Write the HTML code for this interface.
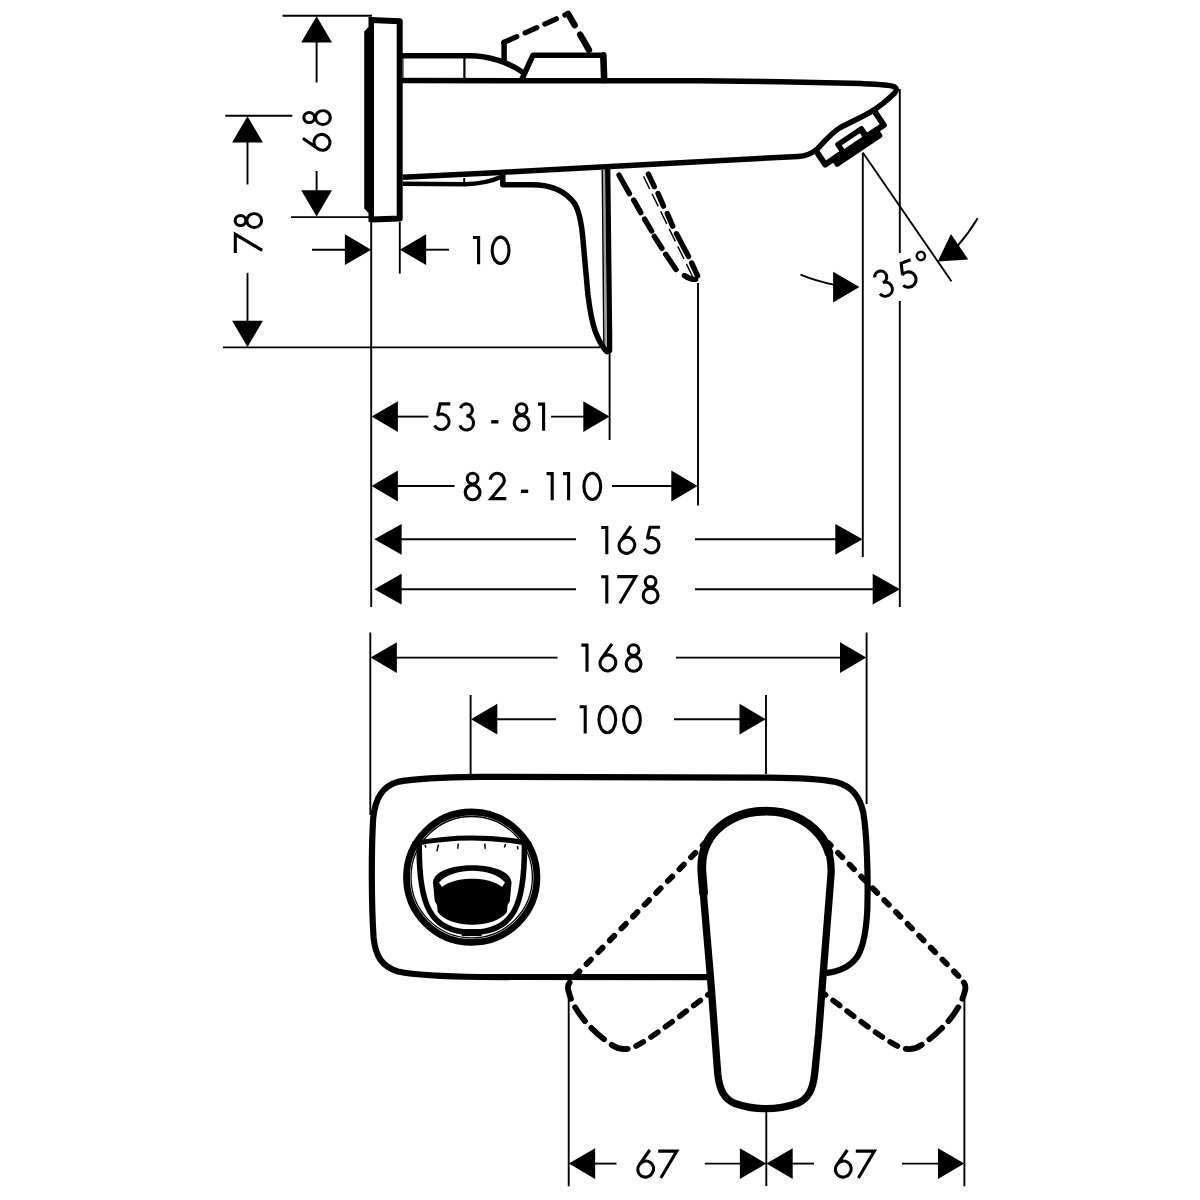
<!DOCTYPE html>
<html><head><meta charset="utf-8"><title>Dimension drawing</title>
<style>
html,body{margin:0;padding:0;background:#fff;font-family:"Liberation Sans",sans-serif;}
svg{display:block}
</style></head>
<body>
<svg width="1200" height="1200" viewBox="0 0 1200 1200">
<rect width="1200" height="1200" fill="#fff"/>
<!-- extension lines -->
<line x1="282.5" y1="15.8" x2="372" y2="15.8" stroke="#000" stroke-width="1.9" />
<line x1="291" y1="217.1" x2="372" y2="217.1" stroke="#000" stroke-width="1.9" />
<line x1="225.3" y1="115.8" x2="292.3" y2="115.8" stroke="#000" stroke-width="1.9" />
<line x1="223" y1="347.4" x2="600" y2="347.4" stroke="#000" stroke-width="1.9" />
<line x1="371.2" y1="222" x2="371.2" y2="607" stroke="#000" stroke-width="1.9" />
<line x1="399.8" y1="222" x2="399.8" y2="273.6" stroke="#000" stroke-width="1.9" />
<line x1="609.6" y1="352" x2="609.6" y2="440" stroke="#000" stroke-width="1.9" />
<line x1="698" y1="283" x2="698" y2="505.4" stroke="#000" stroke-width="1.9" />
<line x1="862.8" y1="153" x2="862.8" y2="557" stroke="#000" stroke-width="1.9" />
<line x1="899.8" y1="89" x2="899.8" y2="253" stroke="#000" stroke-width="1.9" />
<line x1="899.8" y1="301" x2="899.8" y2="607" stroke="#000" stroke-width="1.9" />
<line x1="862.8" y1="152.5" x2="951.4" y2="281.2" stroke="#000" stroke-width="1.9" />
<polygon points="316.60,16.20 332.00,42.50 301.20,42.50" fill="#000"/>
<line x1="316.6" y1="42" x2="316.6" y2="82.5" stroke="#000" stroke-width="1.9" />
<line x1="316.6" y1="171" x2="316.6" y2="191" stroke="#000" stroke-width="1.9" />
<polygon points="316.60,216.60 301.20,190.30 332.00,190.30" fill="#000"/>
<g fill="none" stroke="#000" stroke-width="3.1">
<g transform="matrix(0 -1 1 0 302.3 151.6)"><path d="M13.4,0.6 L3.03,15.25 A7.7,7.7 0 1 0 15.57,24.15 A7.7,7.7 0 1 0 3.03,15.25" stroke-linejoin="round"/></g>
<g transform="matrix(0 -0.94 1 0 302.3 126.0)"><circle cx="9" cy="6.9" r="5.35"/><circle cx="9" cy="20.6" r="7.4"/></g>
</g>
<polygon points="247.50,116.20 262.90,142.50 232.10,142.50" fill="#000"/>
<line x1="247.5" y1="142" x2="247.5" y2="184.5" stroke="#000" stroke-width="1.9" />
<line x1="247.5" y1="272.8" x2="247.5" y2="321.5" stroke="#000" stroke-width="1.9" />
<polygon points="247.50,347.00 232.10,320.70 262.90,320.70" fill="#000"/>
<g fill="none" stroke="#000" stroke-width="3.1">
<g transform="matrix(0 -1 1 0 233.6 252.9)"><path d="M0,1.7 H18.6 L2.6,28.6"/></g>
<g transform="matrix(0 -0.94 1 0 233.6 229.0)"><circle cx="9" cy="6.9" r="5.35"/><circle cx="9" cy="20.6" r="7.4"/></g>
</g>
<polygon points="371.20,249.70 344.90,265.10 344.90,234.30" fill="#000"/>
<line x1="312" y1="249.7" x2="345.5" y2="249.7" stroke="#000" stroke-width="1.9" />
<polygon points="399.80,249.70 426.10,234.30 426.10,265.10" fill="#000"/>
<line x1="425.5" y1="249.7" x2="449" y2="249.7" stroke="#000" stroke-width="1.9" />
<g fill="none" stroke="#000" stroke-width="3.1" stroke-linejoin="miter" stroke-linecap="butt">
<g transform="translate(473 235.6)"><path d="M0,1.9 H5.6 V28.6"/></g>
<g transform="translate(490.6 235.6)"><ellipse cx="10" cy="14.7" rx="8.4" ry="13.15"/></g>
</g>
<polygon points="371.60,416.60 397.90,401.20 397.90,432.00" fill="#000"/>
<polygon points="609.60,416.60 583.30,432.00 583.30,401.20" fill="#000"/>
<line x1="397.40000000000003" y1="416.6" x2="428.4" y2="416.6" stroke="#000" stroke-width="1.9" />
<line x1="551" y1="416.6" x2="583.8000000000001" y2="416.6" stroke="#000" stroke-width="1.9" />
<g fill="none" stroke="#000" stroke-width="3.1" stroke-linejoin="miter" stroke-linecap="butt">
<g transform="translate(432.8 402.2)"><path d="M17.5,1.7 H7.4 L4.9,12.3" stroke-linejoin="miter"/><path d="M4.3,13.2 A7.7,7.7 0 1 1 1.8,23.2"/><path d="M5.7,9.6 L3.3,13.9 L6.6,12.4 Z" fill="#000" stroke="none"/></g>
<g transform="translate(458.4 402.2)"><path d="M2.2,6.0 A6,6 0 1 1 8,13.7 A7.05,7.05 0 1 1 1.5,23.2"/></g>
<g transform="translate(491.2 402.2)"><path d="M0,19.6 H7.2" stroke-width="3.4"/></g>
<g transform="translate(512.6 402.2)"><circle cx="9" cy="6.9" r="5.35"/><circle cx="9" cy="20.6" r="7.4"/></g>
<g transform="translate(538.0 402.2)"><path d="M0,1.9 H5.6 V28.6"/></g>
</g>
<polygon points="371.60,486.00 397.90,470.60 397.90,501.40" fill="#000"/>
<polygon points="697.60,486.00 671.30,501.40 671.30,470.60" fill="#000"/>
<line x1="397.40000000000003" y1="486" x2="454.5" y2="486" stroke="#000" stroke-width="1.9" />
<line x1="612" y1="486" x2="671.8000000000001" y2="486" stroke="#000" stroke-width="1.9" />
<g fill="none" stroke="#000" stroke-width="3.1" stroke-linejoin="miter" stroke-linecap="butt">
<g transform="translate(463.6 471.7)"><circle cx="9" cy="6.9" r="5.35"/><circle cx="9" cy="20.6" r="7.4"/></g>
<g transform="translate(488.3 471.7)"><path d="M1.95,7.9 A7,7 0 1 1 14.12,13.25 L2.6,26.9 H18"/></g>
<g transform="translate(521.0 471.7)"><path d="M0,19.6 H7.2" stroke-width="3.4"/></g>
<g transform="translate(546.6 471.7)"><path d="M0,1.9 H5.6 V28.6"/></g>
<g transform="translate(563.0 471.7)"><path d="M0,1.9 H5.6 V28.6"/></g>
<g transform="translate(582.3 471.7)"><ellipse cx="10" cy="14.7" rx="8.4" ry="13.15"/></g>
</g>
<polygon points="374.30,539.30 401.60,523.90 401.60,554.70" fill="#000"/>
<polygon points="862.60,539.30 835.30,554.70 835.30,523.90" fill="#000"/>
<line x1="401.1" y1="539.3" x2="576" y2="539.3" stroke="#000" stroke-width="1.9" />
<line x1="695" y1="539.3" x2="835.8000000000001" y2="539.3" stroke="#000" stroke-width="1.9" />
<g fill="none" stroke="#000" stroke-width="3.1" stroke-linejoin="miter" stroke-linecap="butt">
<g transform="translate(601.2 525.6)"><path d="M0,1.9 H5.6 V28.6"/></g>
<g transform="translate(617.6 525.6)"><path d="M13.4,0.6 L3.03,15.25 A7.7,7.7 0 1 0 15.57,24.15 A7.7,7.7 0 1 0 3.03,15.25" stroke-linejoin="round"/></g>
<g transform="translate(642.6 525.6)"><path d="M17.5,1.7 H7.4 L4.9,12.3" stroke-linejoin="miter"/><path d="M4.3,13.2 A7.7,7.7 0 1 1 1.8,23.2"/><path d="M5.7,9.6 L3.3,13.9 L6.6,12.4 Z" fill="#000" stroke="none"/></g>
</g>
<polygon points="374.30,589.20 401.60,573.80 401.60,604.60" fill="#000"/>
<polygon points="900.00,589.20 872.70,604.60 872.70,573.80" fill="#000"/>
<line x1="401.1" y1="589.2" x2="576" y2="589.2" stroke="#000" stroke-width="1.9" />
<line x1="695" y1="589.2" x2="873.2" y2="589.2" stroke="#000" stroke-width="1.9" />
<g fill="none" stroke="#000" stroke-width="3.1" stroke-linejoin="miter" stroke-linecap="butt">
<g transform="translate(601.2 574.9)"><path d="M0,1.9 H5.6 V28.6"/></g>
<g transform="translate(617.2 574.9)"><path d="M0,1.7 H18.6 L2.6,28.6"/></g>
<g transform="translate(641.6 574.9)"><circle cx="9" cy="6.9" r="5.35"/><circle cx="9" cy="20.6" r="7.4"/></g>
</g>
<polygon points="859.40,287.10 833.10,302.50 833.10,271.70" fill="#000"/>
<path d="M800.5,274.6 Q816,281 833.5,284.6" fill="none" stroke="#000" stroke-width="1.9" />
<polygon points="937.80,261.40 950.99,233.93 968.22,259.46" fill="#000"/>
<path d="M977.6,218.3 Q969,233 957.5,246" fill="none" stroke="#000" stroke-width="1.9" />
<g fill="none" stroke="#000" stroke-width="3.1" stroke-linejoin="miter" stroke-linecap="butt" transform="translate(870.6 272.5) rotate(-20)">
<g transform="translate(0 0)"><path d="M2.2,6.0 A6,6 0 1 1 8,13.7 A7.05,7.05 0 1 1 1.5,23.2"/></g>
<g transform="translate(24.5 0)"><path d="M17.5,1.7 H7.4 L4.9,12.3" stroke-linejoin="miter"/><path d="M4.3,13.2 A7.7,7.7 0 1 1 1.8,23.2"/><path d="M5.7,9.6 L3.3,13.9 L6.6,12.4 Z" fill="#000" stroke="none"/></g>
<g transform="translate(48.3 -2.0)"><circle cx="4.6" cy="3.6" r="4.1" stroke-width="2.4"/></g>
</g>
<line x1="370.3" y1="632.5" x2="370.3" y2="815" stroke="#000" stroke-width="1.9" />
<line x1="866.6" y1="632.5" x2="866.6" y2="804" stroke="#000" stroke-width="1.9" />
<line x1="470.6" y1="695" x2="470.6" y2="774" stroke="#000" stroke-width="1.9" />
<line x1="766" y1="695" x2="766" y2="774" stroke="#000" stroke-width="1.9" />
<polygon points="370.60,657.60 396.90,642.20 396.90,673.00" fill="#000"/>
<polygon points="866.30,657.60 840.00,673.00 840.00,642.20" fill="#000"/>
<line x1="396.40000000000003" y1="657.6" x2="557.5" y2="657.6" stroke="#000" stroke-width="1.9" />
<line x1="676" y1="657.6" x2="840.5" y2="657.6" stroke="#000" stroke-width="1.9" />
<g fill="none" stroke="#000" stroke-width="3.1" stroke-linejoin="miter" stroke-linecap="butt">
<g transform="translate(581.4 643.2)"><path d="M0,1.9 H5.6 V28.6"/></g>
<g transform="translate(598.6 643.2)"><path d="M13.4,0.6 L3.03,15.25 A7.7,7.7 0 1 0 15.57,24.15 A7.7,7.7 0 1 0 3.03,15.25" stroke-linejoin="round"/></g>
<g transform="translate(624.6 643.2)"><circle cx="9" cy="6.9" r="5.35"/><circle cx="9" cy="20.6" r="7.4"/></g>
</g>
<polygon points="471.00,719.20 497.30,703.80 497.30,734.60" fill="#000"/>
<polygon points="765.80,719.20 739.50,734.60 739.50,703.80" fill="#000"/>
<line x1="496.8" y1="719.2" x2="556" y2="719.2" stroke="#000" stroke-width="1.9" />
<line x1="674" y1="719.2" x2="740.0" y2="719.2" stroke="#000" stroke-width="1.9" />
<g fill="none" stroke="#000" stroke-width="3.1" stroke-linejoin="miter" stroke-linecap="butt">
<g transform="translate(579.6 704.9)"><path d="M0,1.9 H5.6 V28.6"/></g>
<g transform="translate(597.3 704.9)"><ellipse cx="10" cy="14.7" rx="8.4" ry="13.15"/></g>
<g transform="translate(622.0 704.9)"><ellipse cx="10" cy="14.7" rx="8.4" ry="13.15"/></g>
</g>
<line x1="568.7" y1="985" x2="568.7" y2="1186.3" stroke="#000" stroke-width="1.9" />
<line x1="766.3" y1="1111" x2="766.3" y2="1186" stroke="#000" stroke-width="1.9" />
<line x1="964.4" y1="981" x2="964.4" y2="1186.3" stroke="#000" stroke-width="1.9" />
<polygon points="568.80,1163.60 595.10,1148.20 595.10,1179.00" fill="#000"/>
<polygon points="766.20,1163.60 739.90,1179.00 739.90,1148.20" fill="#000"/>
<line x1="594.5999999999999" y1="1163.6" x2="616.5" y2="1163.6" stroke="#000" stroke-width="1.9" />
<line x1="704.8" y1="1163.6" x2="740.4000000000001" y2="1163.6" stroke="#000" stroke-width="1.9" />
<g fill="none" stroke="#000" stroke-width="3.1" stroke-linejoin="miter" stroke-linecap="butt">
<g transform="translate(636.4 1149.4)"><path d="M13.4,0.6 L3.03,15.25 A7.7,7.7 0 1 0 15.57,24.15 A7.7,7.7 0 1 0 3.03,15.25" stroke-linejoin="round"/></g>
<g transform="translate(658.2 1149.4)"><path d="M0,1.7 H18.6 L2.6,28.6"/></g>
</g>
<polygon points="766.40,1163.60 792.70,1148.20 792.70,1179.00" fill="#000"/>
<polygon points="964.30,1163.60 938.00,1179.00 938.00,1148.20" fill="#000"/>
<line x1="792.1999999999999" y1="1163.6" x2="814" y2="1163.6" stroke="#000" stroke-width="1.9" />
<line x1="902" y1="1163.6" x2="938.5" y2="1163.6" stroke="#000" stroke-width="1.9" />
<g fill="none" stroke="#000" stroke-width="3.1" stroke-linejoin="miter" stroke-linecap="butt">
<g transform="translate(834.0 1149.4)"><path d="M13.4,0.6 L3.03,15.25 A7.7,7.7 0 1 0 15.57,24.15 A7.7,7.7 0 1 0 3.03,15.25" stroke-linejoin="round"/></g>
<g transform="translate(855.8 1149.4)"><path d="M0,1.7 H18.6 L2.6,28.6"/></g>
</g>
<!-- side view -->
<path d="M368.5,17 L374,17 L374,222 L368.5,222 L368.5,213 L364.2,208.6 L364.2,31.4 L368.5,27 Z" fill="#000"/>
<path d="M371,20 L399.7,21.2 L399.7,218.6 L371,219.6" fill="none" stroke="#000" stroke-width="6" stroke-linejoin="round"/>
<path d="M402,55.8 H470 C488,55.8 508,62 523,72.5" fill="none" stroke="#000" stroke-width="5.5" />
<line x1="464.4" y1="58" x2="464.4" y2="78.5" stroke="#000" stroke-width="2.2" />
<line x1="403.4" y1="58" x2="403.4" y2="78" stroke="#000" stroke-width="1" stroke-opacity="0.55"/>
<path d="M522,79 L533,55.2 H601" fill="none" stroke="#000" stroke-width="5.5" stroke-linejoin="round"/>
<path d="M603.3,55.2 L604.2,80" fill="none" stroke="#000" stroke-width="6.6" stroke-linecap="round"/>
<path d="M402,80.6 L700,80.7 L780,81.8 L862,83.6 C878,84.2 890,84.6 894,86.6 C897,88.4 897,90.8 894.5,93.2 C889,98.5 880,106.5 870,112.4 C862,117 852,121.5 840,127.75 C832,132.5 826,139.5 817.5,148.75 C812,153.5 806,156.2 798,156.4 L500,172.4 L402.7,177.2" fill="none" stroke="#000" stroke-width="5.5" stroke-linejoin="round"/>
<path d="M402.7,183.8 L465,184.2 C480,184 492,181 501,177" fill="none" stroke="#000" stroke-width="4.6" />
<line x1="464.2" y1="178" x2="464.2" y2="183" stroke="#000" stroke-width="2" />
<path d="M502.8,175 V184.7 H532 C552,184.7 566,192 574.3,203.1 C580,212 582,228 583,240 C584.5,256 586.5,280 587.9,294.2 C589.5,308 592,322 595.5,332.1 C599,341 603,348.5 606.9,351.6" fill="none" stroke="#000" stroke-width="5.5" stroke-linejoin="round" stroke-linecap="round"/>
<path d="M607.7,169 L609.6,335 L609.6,350.6" fill="none" stroke="#000" stroke-width="5.3" stroke-linecap="round"/>
<line x1="602.3" y1="170" x2="603.9" y2="346" stroke="#000" stroke-width="1.5" />
<line x1="604.1" y1="170" x2="605.9" y2="349" stroke="#000" stroke-width="2.0" stroke-opacity="0.38"/>
<path d="M504.1,59.5 V42.3" fill="none" stroke="#000" stroke-width="5.5" stroke-linecap="round"/>
<line x1="504.01" y1="42.34" x2="516.78" y2="36.61" stroke="#000" stroke-width="5.2" stroke-linecap="round"/>
<line x1="525.17" y1="32.84" x2="536.85" y2="27.59" stroke="#000" stroke-width="5.2" stroke-linecap="round"/>
<line x1="544.78" y1="24.03" x2="556.46" y2="18.78" stroke="#000" stroke-width="5.2" stroke-linecap="round"/>
<line x1="564.85" y1="15.01" x2="567.86" y2="13.66" stroke="#000" stroke-width="5.2" stroke-linecap="round"/>
<line x1="568.10" y1="13.77" x2="574.66" y2="25.11" stroke="#000" stroke-width="6.4" stroke-linecap="round"/>
<line x1="580.12" y1="34.55" x2="588.94" y2="49.78" stroke="#000" stroke-width="6.4" stroke-linecap="round"/>
<line x1="619.10" y1="175.20" x2="629.40" y2="193.60" stroke="#000" stroke-width="5.4" stroke-linecap="round"/>
<line x1="633.70" y1="200.10" x2="640.80" y2="212.60" stroke="#000" stroke-width="5.4" stroke-linecap="round"/>
<line x1="644.60" y1="219.10" x2="651.60" y2="231.00" stroke="#000" stroke-width="5.4" stroke-linecap="round"/>
<line x1="654.30" y1="236.40" x2="661.90" y2="248.30" stroke="#000" stroke-width="5.4" stroke-linecap="round"/>
<line x1="665.70" y1="254.30" x2="676.00" y2="269.50" stroke="#000" stroke-width="5.4" stroke-linecap="round"/>
<path d="M684.4,275.5 Q690,279.6 695.6,279.4" fill="none" stroke="#000" stroke-width="5.4" stroke-linecap="round"/>
<line x1="648.40" y1="174.10" x2="654.30" y2="186.60" stroke="#000" stroke-width="5.4" stroke-linecap="round"/>
<line x1="658.10" y1="193.60" x2="663.50" y2="206.10" stroke="#000" stroke-width="5.4" stroke-linecap="round"/>
<line x1="667.30" y1="213.60" x2="672.70" y2="226.10" stroke="#000" stroke-width="5.4" stroke-linecap="round"/>
<line x1="676.50" y1="233.70" x2="688.50" y2="256.50" stroke="#000" stroke-width="5.4" stroke-linecap="round"/>
<line x1="691.70" y1="263.00" x2="697.60" y2="275.80" stroke="#000" stroke-width="5.4" stroke-linecap="round"/>
<path d="M643.5,176.3 L692.8,277" fill="none" stroke="#000" stroke-width="1.4" stroke-dasharray="14 5.5"/>
<g transform="translate(826.1 160.4) rotate(-34)">
<path d="M-3,-13.5 V3 H67.6 V-13.5" fill="none" stroke="#000" stroke-width="6" stroke-linejoin="round"/>
<rect x="4.5" y="0" width="56.5" height="12" rx="2.2" fill="#000"/>
<rect x="16" y="-9.2" width="33.6" height="12" rx="2" fill="#000"/>
<rect x="21.4" y="-3.7" width="21.8" height="4.4" fill="#fff"/>
</g>
<!-- top view -->
<path d="M707.5,977.2 L480,977 C445,976.6 418,975.6 398,971.5 C382,967 375.5,956 373.6,938 C371.4,905 371.2,850 373.2,818 C375.5,797 383,786 399,781.6 C415,778.4 442,777.2 480,776.8 L770,777.6 C800,777.8 822,779.2 836,782 C852,786.5 859.5,796 863.2,812 C867.2,835 868.2,880 867.3,910 C866,935 862.6,948 857.4,956.5 C850.8,966 840,971.5 826,973.2" fill="none" stroke="#000" stroke-width="6.2" stroke-linejoin="round"/>
<circle cx="471.7" cy="877.2" r="65.2" fill="none" stroke="#000" stroke-width="6.8"/>
<circle cx="471.7" cy="877.2" r="60.7" fill="none" stroke="#000" stroke-width="1.3"/>
<path d="M419.2,843 C418.5,905 430,932.3 472,932.3 C514,932.3 525.2,905 524.4,843" fill="none" stroke="#000" stroke-width="5.6" />
<path d="M414.5,843.6 Q472,832.4 529,843.6" fill="none" stroke="#000" stroke-width="5.2" stroke-linecap="round"/>
<line x1="461.7" y1="932.6" x2="481.7" y2="932.6" stroke="#000" stroke-width="7" />
<line x1="438.5" y1="844.5" x2="436.9" y2="851.3" stroke="#000" stroke-width="1.5" />
<line x1="458.25" y1="843.6" x2="457.75" y2="848.8" stroke="#000" stroke-width="1.5" />
<line x1="484.75" y1="843.6" x2="485.25" y2="848.8" stroke="#000" stroke-width="1.5" />
<line x1="505.6" y1="844" x2="504.4" y2="847.6" stroke="#000" stroke-width="1.5" />
<line x1="517.45" y1="846" x2="517.95" y2="849.4" stroke="#000" stroke-width="1.5" />
<line x1="425.1" y1="845" x2="425.9" y2="847.4" stroke="#000" stroke-width="1.5" />
<path d="M433,883 C433,871.5 452,865.3 472.3,865.3 C492.5,865.3 511.5,871.5 511.5,883 L509.8,901.3 L507.6,905 L507,912 C500,921 486,924.8 472.3,924.8 C458.5,924.8 444.5,921 437.7,912 L437,905 L434.8,901.3 Z" fill="#000"/>
<path d="M439,882.4 C447,874 460,870.7 472.3,870.7 C485,870.7 497.5,874 505,882.4 L502,887 C495,881.4 484,878.8 472.3,878.8 C460.5,878.8 449,881.4 442,887 Z" fill="#fff"/>
<path d="M705,843 L570,981" fill="none" stroke="#000" stroke-width="5.8" stroke-linecap="round" stroke-dasharray="6.4 10.2" stroke-dashoffset="3"/>
<path d="M569.6,982.5 Q567,986 568.5,991 C573,1010 590,1030 612,1045 Q620,1050.5 630,1048.5" fill="none" stroke="#000" stroke-width="5.8" stroke-linecap="round" stroke-dasharray="17 9.4"/>
<path d="M636,1046 C654,1037 690,1008 709.5,993.6" fill="none" stroke="#000" stroke-width="5.6" stroke-linecap="round" stroke-dasharray="8.4 9.2"/>
<g transform="translate(1533.4 0) scale(-1 1)">
<path d="M705,843 L570,981" fill="none" stroke="#000" stroke-width="5.8" stroke-linecap="round" stroke-dasharray="6.4 10.2" stroke-dashoffset="3"/>
<path d="M569.6,982.5 Q567,986 568.5,991 C573,1010 590,1030 612,1045 Q620,1050.5 630,1048.5" fill="none" stroke="#000" stroke-width="5.8" stroke-linecap="round" stroke-dasharray="17 9.4"/>
<path d="M636,1046 C654,1037 690,1008 709.5,993.6" fill="none" stroke="#000" stroke-width="5.6" stroke-linecap="round" stroke-dasharray="8.4 9.2"/>
</g>
<path d="M766,811.4 C748,811.4 728,817 712.7,834 C702,848 700.4,862 702.2,880 L710.7,980 L714.7,1033.3 L717.7,1073.3 C719.5,1090 724,1099 735,1103.5 C745,1107 755,1108.7 766,1108.7 C777,1108.7 787,1107 797,1103.5 C808,1099 812.9,1090 814.7,1073.3 L818.7,1033.3 L822.7,980 L830.6,880 C832.4,862 830,848 819.3,834.5 C804,817 784,811.4 766,811.4 Z" fill="none" stroke="#000" stroke-width="7.3" fill="#fff" stroke-linejoin="round"/>
<path d="M703.6,893 L702.4,878 C700.6,862 702,848 712.7,834 C728,817 748,811.2 766,811.2 C784,811.2 804,817 819.3,834.5 C824,840 827,846 829,853" fill="none" stroke="#000" stroke-width="8.8" stroke-linecap="round"/>
</svg>
</body></html>
